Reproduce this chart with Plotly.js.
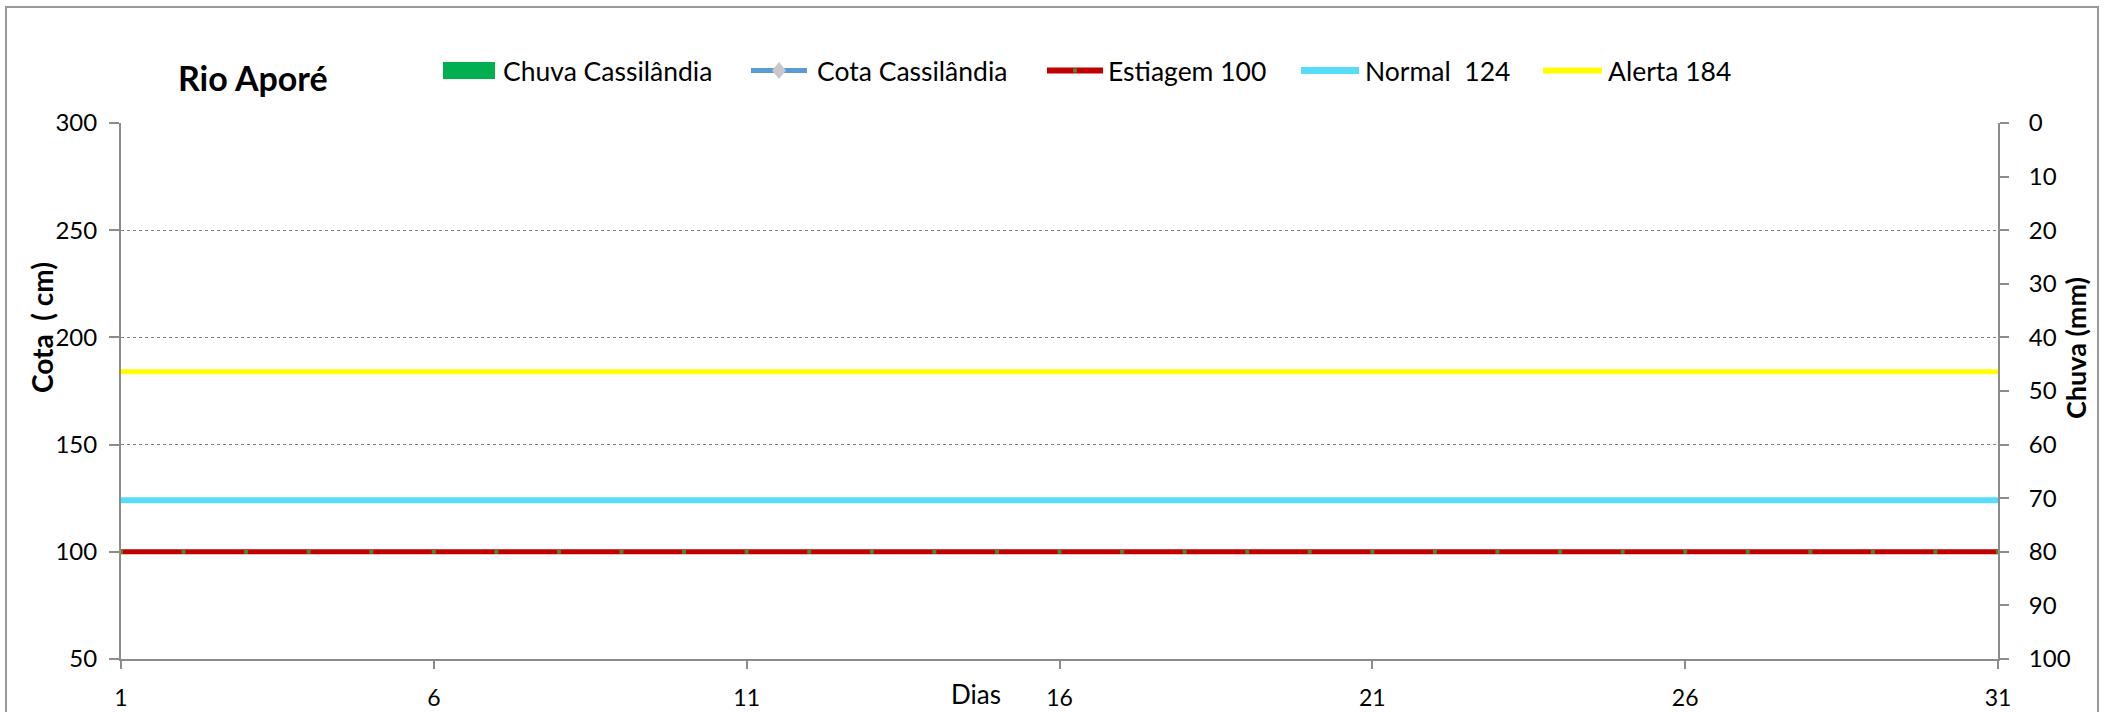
<!DOCTYPE html>
<html>
<head>
<meta charset="utf-8">
<script src="https://cdn.plot.ly/plotly-3.0.1.min.js"></script>
<style>
  html, body { margin: 0; padding: 0; background: #fff; }
  #chart { width: 2105px; height: 712px; }
</style>
</head>
<body>
<div id="chart"></div>
<script>
// ---- Data ----
const days = Array.from({length: 31}, (_, i) => i + 1);
const xTickVals = [1, 6, 11, 16, 21, 26, 31];
const leftTickVals = [50, 100, 150, 200, 250, 300];
const rightTickVals = [0, 10, 20, 30, 40, 50, 60, 70, 80, 90, 100];

const chuvaCassilandia = [null,null,null,null,null,null,null,null,null,null,null,null,null,null,null,null,null,null,null,null,null,null,null,null,null,null,null,null,null,null,null];
const cotaCassilandia  = [null,null,null,null,null,null,null,null,null,null,null,null,null,null,null,null,null,null,null,null,null,null,null,null,null,null,null,null,null,null,null];
const estiagem = [100,100,100,100,100,100,100,100,100,100,100,100,100,100,100,100,100,100,100,100,100,100,100,100,100,100,100,100,100,100,100];
const normal   = [124,124,124,124,124,124,124,124,124,124,124,124,124,124,124,124,124,124,124,124,124,124,124,124,124,124,124,124,124,124,124];
const alerta   = [184,184,184,184,184,184,184,184,184,184,184,184,184,184,184,184,184,184,184,184,184,184,184,184,184,184,184,184,184,184,184];

const seriesNames = ['Chuva Cassilândia', 'Cota Cassilândia', 'Estiagem 100', 'Normal  124', 'Alerta 184'];

// ---- Styling / layout geometry ----
const W = 2105, H = 712;
const M = { l: 121, r: 107, t: 123, b: 53 };
const PW = W - M.l - M.r, PH = H - M.t - M.b;
const px = X => (X - M.l) / PW;          // pixel -> paper x
const py = Y => (H - M.b - Y) / PH;      // pixel -> paper y
const keepSpaces = s => s.replace(/  /g, ' \u00A0');

const FONT = 'Lato, "Open Sans", sans-serif';
const AXIS_GRAY = '#8c8c8c';
const COLORS = { chuva: '#00B050', cota: '#5B9BD5', cotaMarker: '#C8C8C8',
                 estiagem: '#C00000', estMarker: '#4E8A2C', normal: '#57DDF7', alerta: '#FFFF00' };

const traces = [
  { type: 'bar', name: seriesNames[0], x: days, y: chuvaCassilandia, yaxis: 'y2',
    marker: { color: COLORS.chuva }, showlegend: false },
  { type: 'scatter', mode: 'lines+markers', name: seriesNames[1], x: days, y: cotaCassilandia,
    line: { color: COLORS.cota, width: 4 }, marker: { symbol: 'diamond', color: COLORS.cotaMarker, size: 12 },
    showlegend: false },
  { type: 'scatter', mode: 'lines+markers', name: seriesNames[2], x: days, y: estiagem,
    line: { color: COLORS.estiagem, width: 5 }, marker: { symbol: 'square', color: COLORS.estMarker, size: 4 },
    showlegend: false },
  { type: 'scatter', mode: 'lines', name: seriesNames[3], x: days, y: normal,
    line: { color: COLORS.normal, width: 6 }, showlegend: false },
  { type: 'scatter', mode: 'lines', name: seriesNames[4], x: days, y: alerta,
    line: { color: COLORS.alerta, width: 5 }, showlegend: false }
];

// ---- Legend (drawn to match the original's wide swatches) ----
const LEG_Y = 70.5;
const legendItems = [
  { name: seriesNames[0], kind: 'box',  x0: 443,  x1: 495,  textX: 503,  color: COLORS.chuva },
  { name: seriesNames[1], kind: 'line', x0: 751,  x1: 807,  textX: 817,  color: COLORS.cota, w: 5, marker: 'diamond' },
  { name: seriesNames[2], kind: 'line', x0: 1047, x1: 1103, textX: 1108, color: COLORS.estiagem, w: 6, marker: 'dot' },
  { name: seriesNames[3], kind: 'line', x0: 1301, x1: 1359, textX: 1365, color: COLORS.normal, w: 7 },
  { name: seriesNames[4], kind: 'line', x0: 1543, x1: 1602, textX: 1608, color: COLORS.alerta, w: 6 }
];

const legendShapes = [];
const legendAnns = [];
legendItems.forEach(it => {
  if (it.kind === 'box') {
    legendShapes.push({ type: 'rect', xref: 'paper', yref: 'paper',
      x0: px(it.x0), x1: px(it.x1), y0: py(LEG_Y + 8.5), y1: py(LEG_Y - 8.5),
      fillcolor: it.color, line: { width: 0 } });
  } else {
    legendShapes.push({ type: 'line', xref: 'paper', yref: 'paper',
      x0: px(it.x0), x1: px(it.x1), y0: py(LEG_Y), y1: py(LEG_Y),
      line: { color: it.color, width: it.w } });
    const cx = (it.x0 + it.x1) / 2;
    if (it.marker === 'diamond') {
      legendShapes.push({ type: 'path', xref: 'paper', yref: 'paper',
        path: `M${px(cx)},${py(LEG_Y - 8.5)} L${px(cx + 7)},${py(LEG_Y)} L${px(cx)},${py(LEG_Y + 8.5)} L${px(cx - 7)},${py(LEG_Y)} Z`,
        fillcolor: COLORS.cotaMarker, line: { width: 0 } });
    } else if (it.marker === 'dot') {
      legendShapes.push({ type: 'rect', xref: 'paper', yref: 'paper',
        x0: px(cx - 2), x1: px(cx + 2), y0: py(LEG_Y + 2), y1: py(LEG_Y - 2),
        fillcolor: COLORS.estMarker, line: { width: 0 } });
    }
  }
  legendAnns.push({ text: keepSpaces(it.name), xref: 'paper', yref: 'paper',
    x: px(it.textX - 2), y: py(LEG_Y), xanchor: 'left', yanchor: 'middle', showarrow: false,
    font: { family: FONT, size: 26.5, color: '#000' } });
});

const layout = {
  width: W, height: H,
  margin: { l: M.l, r: M.r, t: M.t, b: M.b, pad: 0 },
  paper_bgcolor: '#ffffff', plot_bgcolor: '#ffffff',
  font: { family: FONT, color: '#000', size: 24 },
  showlegend: false,
  xaxis: {
    range: [1, 31], tickmode: 'array', tickvals: xTickVals, ticktext: xTickVals.map(String),
    showgrid: false, zeroline: false, showline: true, linecolor: AXIS_GRAY, linewidth: 2,
    ticks: 'outside', ticklen: 8, tickwidth: 2, tickcolor: AXIS_GRAY,
    ticklabelstandoff: 9, tickfont: { family: FONT, size: 23 }
  },
  yaxis: {
    range: [50, 300], tickmode: 'array', tickvals: leftTickVals,
    showgrid: true, gridcolor: '#808080', griddash: 'dot', gridwidth: 1,
    zeroline: false, showline: true, linecolor: AXIS_GRAY, linewidth: 2,
    ticks: 'outside', ticklen: 10, tickwidth: 2, tickcolor: AXIS_GRAY,
    ticklabelstandoff: 7, tickfont: { family: FONT, size: 24 }
  },
  yaxis2: {
    overlaying: 'y', side: 'right', range: [100, 0], tickmode: 'array', tickvals: rightTickVals,
    showgrid: false, zeroline: false, showline: true, linecolor: AXIS_GRAY, linewidth: 2,
    ticks: 'outside', ticklen: 9, tickwidth: 2, tickcolor: AXIS_GRAY,
    ticklabelstandoff: 15, tickfont: { family: FONT, size: 24 }
  },
  annotations: [
    { text: '<b>Rio Aporé</b>', xref: 'paper', yref: 'paper', x: px(253), y: py(77),
      xanchor: 'center', yanchor: 'middle', showarrow: false, font: { family: FONT, size: 34 } },
    { text: '<b>Cota \u00A0( cm)</b>', xref: 'paper', yref: 'paper', x: px(42), y: py(328), textangle: -90,
      xanchor: 'center', yanchor: 'middle', showarrow: false, font: { family: FONT, size: 28 } },
    { text: '<b>Chuva (mm)</b>', xref: 'paper', yref: 'paper', x: px(2075), y: py(348), textangle: -90,
      xanchor: 'center', yanchor: 'middle', showarrow: false, font: { family: FONT, size: 27 } },
    { text: 'Dias', xref: 'paper', yref: 'paper', x: px(976), y: py(694),
      xanchor: 'center', yanchor: 'middle', showarrow: false, font: { family: FONT, size: 26 } }
  ].concat(legendAnns),
  shapes: [
    { type: 'rect', xref: 'paper', yref: 'paper', x0: px(6), x1: px(2098), y0: py(740), y1: py(7),
      line: { color: '#999999', width: 2 }, fillcolor: 'rgba(0,0,0,0)', layer: 'below' }
  ].concat(legendShapes)
};

Plotly.newPlot('chart', traces, layout, { staticPlot: true, displayModeBar: false });
</script>
</body>
</html>
